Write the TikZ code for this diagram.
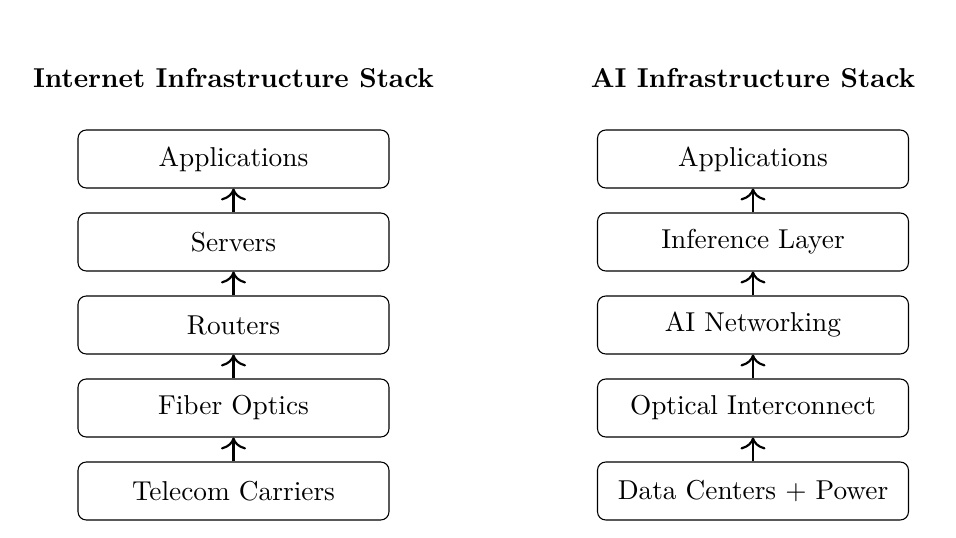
\documentclass[tikz,border=0pt]{standalone}
\usetikzlibrary{arrows.meta}
\begin{document}
\begin{tikzpicture}[x=0.366pt,y=-0.366pt,
  layer/.style={draw, rounded corners=3pt, minimum width=113.8pt, minimum height=21.2pt, inner sep=0pt, font=\normalsize},
  title/.style={font=\bfseries},
  up/.style={-{To[scale=1.3]}, thick}]
\useasboundingbox (0,0) rectangle (956,538);
\node[title] (tl) at (233.5,78) {Internet Infrastructure Stack};
\node[title] (tr) at (753,78) {AI Infrastructure Stack};
\node[layer] (l1) at (233.5,159) {Applications};
\node[layer] (l2) at (233.5,242) {Servers};
\node[layer] (l3) at (233.5,325) {Routers};
\node[layer] (l4) at (233.5,408) {Fiber Optics};
\node[layer] (l5) at (233.5,491) {Telecom Carriers};
\node[layer] (r1) at (753,159) {Applications};
\node[layer] (r2) at (753,242) {Inference Layer};
\node[layer] (r3) at (753,325) {AI Networking};
\node[layer] (r4) at (753,408) {Optical Interconnect};
\node[layer] (r5) at (753,491) {Data Centers + Power};
\foreach \a/\b in {l5/l4,l4/l3,l3/l2,l2/l1,r5/r4,r4/r3,r3/r2,r2/r1}
  \draw[up] (\a.north) -- (\b.south);
\end{tikzpicture}
\end{document}
